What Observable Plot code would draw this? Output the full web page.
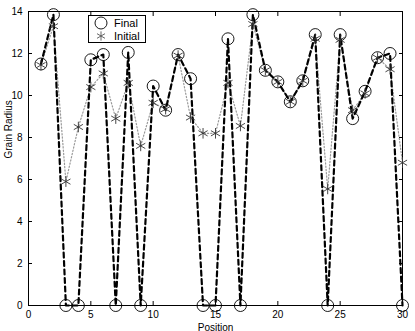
<!DOCTYPE html>
<html>
<head>
<meta charset="utf-8">
<script src="https://cdn.jsdelivr.net/npm/d3@7"></script>
<script src="https://cdn.jsdelivr.net/npm/@observablehq/plot@0.6"></script>
<style>
  body { margin: 0; background: #fff; }
  #wrap { position: relative; width: 415px; height: 331px; }
  #legend { position: absolute; left: 0; top: 0; }
</style>
</head>
<body>
<div id="wrap"></div>
<script>
const positions = [1,2,3,4,5,6,7,8,9,10,11,12,13,14,15,16,17,18,19,20,21,22,23,24,25,26,27,28,29,30];
const finalRadius = [11.5,13.85,0,0,11.7,11.95,0,12.05,0,10.45,9.3,11.95,10.8,0,0,12.7,0,13.85,11.2,10.65,9.7,10.7,12.9,0,12.9,8.9,10.2,11.8,12.0,0];
const initialRadius = [11.45,13.3,5.9,8.5,10.4,11.05,8.9,10.6,7.6,9.65,9.35,11.9,8.95,8.2,8.2,10.6,8.55,13.4,11.2,10.65,9.7,10.7,12.7,5.55,12.65,9.3,10.1,11.8,11.25,6.8];
const xTicks = [0,5,10,15,20,25,30];
const yTicks = [0,2,4,6,8,10,12,14];
const seriesNames = ["Final","Initial"];
const xLabel = "Position";
const yLabel = "Grain Radius";

const finalData = positions.map((p,i)=>({x:p, y:finalRadius[i]}));
const initialData = positions.map((p,i)=>({x:p, y:initialRadius[i]}));

const font = "Liberation Sans, Arial, Helvetica, sans-serif";

const chart = Plot.plot({
  width: 415,
  height: 331,
  marginLeft: 28,
  marginRight: 13,
  marginTop: 11,
  marginBottom: 26,
  style: {fontFamily: font, fontSize: "10px", background: "#fff", color: "#000"},
  x: {domain: [0,30]},
  y: {domain: [0,14]},
  marks: [
    Plot.axisX({ticks: xTicks, tickSize: -4, tickPadding: 9, label: null, fontSize: 10}),
    Plot.axisX({ticks: xTicks, anchor: "top", tickSize: -4, tickFormat: () => "", label: null}),
    Plot.axisY({ticks: yTicks, tickSize: -4, tickPadding: 10, label: null, fontSize: 10}),
    Plot.axisY({ticks: yTicks, anchor: "right", tickSize: -4, tickFormat: () => "", label: null}),
    Plot.frame({stroke: "#000", strokeWidth: 1}),
    Plot.line(initialData, {x: "x", y: "y", stroke: "#999", strokeWidth: 1.2, strokeDasharray: "1.3,2"}),
    Plot.line(finalData, {x: "x", y: "y", stroke: "#000", strokeWidth: 2.2, strokeDasharray: "5,3.5"}),
    Plot.dot(finalData, {x: "x", y: "y", r: 6, stroke: "#000", strokeWidth: 0.9, fill: "none"}),
    Plot.dot(initialData, {x: "x", y: "y", r: 5, symbol: "asterisk", stroke: "#333", strokeWidth: 0.9}),
    Plot.text([xLabel], {frameAnchor: "bottom", dy: 25, text: d => d, fontSize: 10}),
    Plot.text([yLabel], {frameAnchor: "left", dx: -20, rotate: -90, text: d => d, fontSize: 10})
  ]
});
document.getElementById("wrap").appendChild(chart);

// Legend overlay
const leg = d3.select("#wrap").append("svg")
  .attr("id", "legend").attr("width", 415).attr("height", 331)
  .style("font-family", font).style("font-size", "11px");
leg.append("rect").attr("x", 88.5).attr("y", 15.5).attr("width", 57).attr("height", 27)
  .attr("fill", "#fff").attr("stroke", "#000").attr("stroke-width", 1);
leg.append("circle").attr("cx", 101).attr("cy", 23).attr("r", 6).attr("fill", "none").attr("stroke", "#000").attr("stroke-width", 0.9);
leg.append("path").attr("d", d3.symbol(d3.symbolAsterisk, 60)()).attr("transform", "translate(101,36)").attr("stroke", "#555").attr("stroke-width", 0.9).attr("fill", "none");
leg.append("text").attr("x", 114).attr("y", 27).text(seriesNames[0]);
leg.append("text").attr("x", 114).attr("y", 40).text(seriesNames[1]);
</script>
</body>
</html>
